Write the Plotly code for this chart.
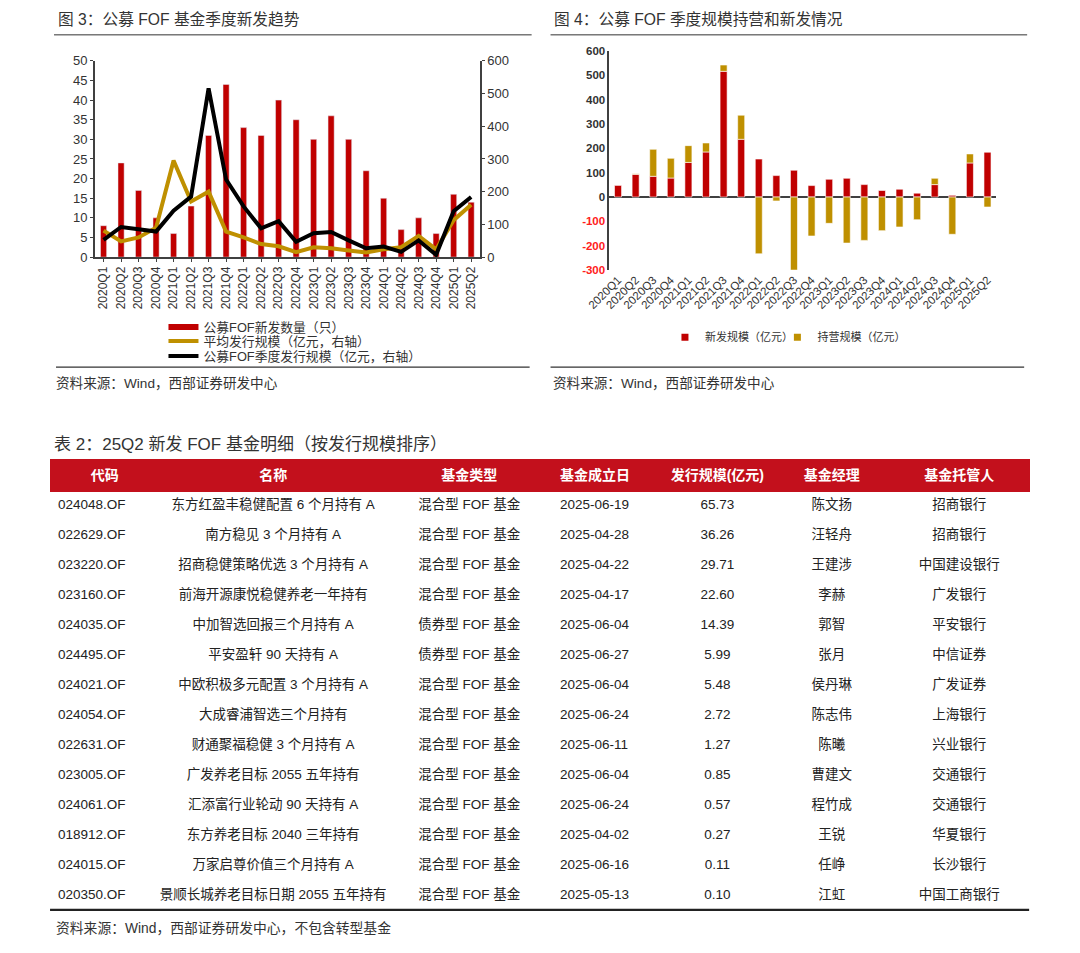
import plotly.graph_objects as go

# ---------------- data ----------------
quarters = ["2020Q1", "2020Q2", "2020Q3", "2020Q4", "2021Q1", "2021Q2", "2021Q3", "2021Q4",
            "2022Q1", "2022Q2", "2022Q3", "2022Q4", "2023Q1", "2023Q2", "2023Q3", "2023Q4",
            "2024Q1", "2024Q2", "2024Q3", "2024Q4", "2025Q1", "2025Q2"]
new_count = [8, 24, 17, 10, 6, 13, 31, 44, 33, 31, 40, 35, 30, 36, 30, 22, 15, 7, 10, 6, 16, 14]
avg_scale = [81, 48, 60, 90, 295, 170, 200, 78, 60, 40, 33, 15, 30, 27, 20, 14, 24, 30, 65, 24, 113, 160]
quarter_scale = [53, 92, 85, 78, 142, 185, 516, 237, 155, 88, 110, 47, 73, 77, 51, 27, 32, 16, 51, 7, 140, 184]

new_scale = [49, 93, 85, 78, 142, 185, 516, 237, 156, 88, 110, 47, 73, 77, 51, 27, 32, 16, 51, 7, 140, 184]
existing_scale = [0, 3, 111, 81, 69, 37, 26, 99, -233, -16, -300, -160, -108, -189, -178, -138, -123, -93, 26, -153, 37, -41]

y3_ticks = [-300, -200, -100, 0, 100, 200, 300, 400, 500, 600]

tbl_headers = ["代码", "名称", "基金类型", "基金成立日", "发行规模(亿元)", "基金经理", "基金托管人"]
codes = ["024048.OF", "022629.OF", "023220.OF", "023160.OF", "024035.OF", "024495.OF", "024021.OF",
         "024054.OF", "022631.OF", "023005.OF", "024061.OF", "018912.OF", "024015.OF", "020350.OF"]
names = ["东方红盈丰稳健配置 6 个月持有 A", "南方稳见 3 个月持有 A", "招商稳健策略优选 3 个月持有 A",
         "前海开源康悦稳健养老一年持有", "中加智选回报三个月持有 A", "平安盈轩 90 天持有 A",
         "中欧积极多元配置 3 个月持有 A", "大成睿浦智选三个月持有", "财通聚福稳健 3 个月持有 A",
         "广发养老目标 2055 五年持有", "汇添富行业轮动 90 天持有 A", "东方养老目标 2040 三年持有",
         "万家启尊价值三个月持有 A", "景顺长城养老目标日期 2055 五年持有"]
fund_types = ["混合型 FOF 基金", "混合型 FOF 基金", "混合型 FOF 基金", "混合型 FOF 基金", "债券型 FOF 基金",
              "债券型 FOF 基金", "混合型 FOF 基金", "混合型 FOF 基金", "混合型 FOF 基金", "混合型 FOF 基金",
              "混合型 FOF 基金", "混合型 FOF 基金", "混合型 FOF 基金", "混合型 FOF 基金"]
est_dates = ["2025-06-19", "2025-04-28", "2025-04-22", "2025-04-17", "2025-06-04", "2025-06-27", "2025-06-04",
             "2025-06-24", "2025-06-11", "2025-06-04", "2025-06-24", "2025-04-02", "2025-06-16", "2025-05-13"]
issue_scale = [65.73, 36.26, 29.71, 22.60, 14.39, 5.99, 5.48, 2.72, 1.27, 0.85, 0.57, 0.27, 0.11, 0.10]
managers = ["陈文扬", "汪轻舟", "王建涉", "李赫", "郭智", "张月", "侯丹琳", "陈志伟", "陈曦", "曹建文",
            "程竹成", "王锐", "任峥", "江虹"]
custodians = ["招商银行", "招商银行", "中国建设银行", "广发银行", "平安银行", "中信证券", "广发证券",
              "上海银行", "兴业银行", "交通银行", "交通银行", "华夏银行", "长沙银行", "中国工商银行"]

# ---------------- style ----------------
OFF = 8                      # default body margin of the page
W, H = 1050, 940
SC, OXC, OYC = 0.983, 19.0, 7.3   # calibration of the photographed page
def px(x):
    return ((x - OXC) / SC - OFF) / W
def py(y):
    return 1 - ((y - OYC) / SC - OFF) / H
ROW = 30

RED = "#C00000"
GOLD = "#BF9000"
HDR = "#C3101C"
AX = "#404040"
TXT = "#333333"
FONT = "Liberation Sans, Noto Sans CJK SC, sans-serif"

fig = go.Figure()

# ---------- chart 1 ----------
fig.add_trace(go.Bar(x=quarters, y=new_count, marker_color=RED, width=0.35,
                     xaxis="x", yaxis="y", showlegend=False, name="公募FOF新发数量（只）"))
fig.add_trace(go.Scatter(x=[None], y=[None], mode="lines", line=dict(color=RED, width=6),
                         xaxis="x", yaxis="y", name="公募FOF新发数量（只）", legend="legend"))
fig.add_trace(go.Scatter(x=quarters, y=avg_scale, mode="lines", line=dict(color=GOLD, width=4),
                         xaxis="x", yaxis="y2", name="平均发行规模（亿元，右轴）", legend="legend2"))
fig.add_trace(go.Scatter(x=quarters, y=quarter_scale, mode="lines", line=dict(color="black", width=4),
                         xaxis="x", yaxis="y2", name="公募FOF季度发行规模（亿元，右轴）", legend="legend3"))

# ---------- chart 2 ----------
fig.add_trace(go.Bar(x=quarters, y=new_scale, marker=dict(color=RED, line=dict(color="white", width=0.6)),
                     width=0.4, xaxis="x2", yaxis="y3", showlegend=False, name="新发规模（亿元）"))
fig.add_trace(go.Bar(x=quarters, y=existing_scale, marker=dict(color=GOLD, line=dict(color="white", width=0.6)),
                     width=0.4, xaxis="x2", yaxis="y3", showlegend=False, name="持营规模（亿元）"))
fig.add_trace(go.Scatter(x=[None], y=[None], mode="markers", marker=dict(color=RED, symbol="square", size=7),
                         xaxis="x2", yaxis="y3", name="新发规模（亿元）", legend="legend4"))
fig.add_trace(go.Scatter(x=[None], y=[None], mode="markers", marker=dict(color=GOLD, symbol="square", size=7),
                         xaxis="x2", yaxis="y3", name="持营规模（亿元）", legend="legend5"))

# ---------- table ----------
nb = lambda s: s.replace(" ", "\u00a0")
fig.add_trace(go.Table(
    domain=dict(x=[px(46), px(1030)], y=[py(918), py(459)]),
    columnwidth=[110, 228, 166, 109, 114, 116, 140],
    header=dict(values=["<b>%s</b>" % h for h in tbl_headers],
                fill_color=HDR, line_color=HDR, height=ROW,
                align=["center", "center", "center", "left", "center", "center", "center"],
                font=dict(family=FONT, size=14, color="white")),
    cells=dict(values=[codes, [nb(n) for n in names], [nb(t) for t in fund_types], est_dates,
                       ["%.2f" % v for v in issue_scale], managers, custodians],
               fill_color="white", line_color="white", height=ROW,
               align=["left", "center", "center", "left", "center", "center", "center"],
               font=dict(family=FONT, size=13.5, color="#222222")),
))

# ---------- layout ----------
tick_txt = []
for v in y3_ticks:
    if v < 0:
        tick_txt.append('<b><span style="color:#FF2020">%d</span></b>' % v)
    else:
        tick_txt.append("<b>%d</b>" % v)

def leg(x, y, orient="v", size=12.8):
    return dict(x=px(x), y=py(y), xanchor="left", yanchor="middle", orientation=orient,
                bgcolor="rgba(0,0,0,0)", borderwidth=0, font=dict(family=FONT, size=size, color=TXT))

fig.update_layout(
    width=W, height=H, margin=dict(l=0, r=0, t=0, b=0),
    paper_bgcolor="white", plot_bgcolor="white",
    font=dict(family=FONT, size=12, color=TXT),
    barmode="relative", bargap=0.6,
    xaxis=dict(domain=[px(91), px(478)], anchor="y", type="category", range=[-0.5, 21.5],
               tickangle=-90, tickfont=dict(size=12, color=TXT), showline=True, linecolor=AX,
               linewidth=1.5, ticks="outside", ticklen=3, tickcolor=AX, showgrid=False, zeroline=False),
    yaxis=dict(domain=[py(257), py(61)], range=[0, 50], dtick=5, showgrid=False, zeroline=False,
               showline=True, linecolor=AX, linewidth=1.5, ticks="outside", ticklen=3, tickcolor=AX,
               tickfont=dict(size=13, color=TXT)),
    yaxis2=dict(overlaying="y", side="right", anchor="x", range=[0, 600], dtick=100, showgrid=False,
                zeroline=False, showline=True, linecolor=AX, linewidth=1.5, ticks="outside", ticklen=3,
                tickcolor=AX, tickfont=dict(size=13, color=TXT)),
    xaxis2=dict(domain=[px(608), px(997)], anchor="y3", type="category", range=[-0.5, 21.5],
                tickangle=-45, tickfont=dict(size=11.5, color=TXT), showline=False, ticks="",
                showgrid=False, zeroline=False),
    yaxis3=dict(domain=[py(270), py(51)], anchor="x2", range=[-300, 600], tickvals=y3_ticks,
                ticktext=tick_txt, showgrid=False, showline=True, linecolor=AX, linewidth=1.5,
                zeroline=True, zerolinecolor=AX, zerolinewidth=1.5, ticks="",
                tickfont=dict(size=11.5, color=TXT)),
    legend=leg(160, 327),
    legend2=leg(160, 341),
    legend3=leg(160, 356),
    legend4=leg(664, 337, "h", 11),
    legend5=leg(777, 337, "h", 11),
    showlegend=True,
)

def label(x, y, text, size=12, color=TXT):
    fig.add_annotation(x=px(x), y=py(y), xref="paper", yref="paper", text=text, showarrow=False,
                       xanchor="left", yanchor="middle", font=dict(family=FONT, size=size, color=color))

label(52, 20, "图 3：公募 FOF 基金季度新发趋势", 15.7)
label(550, 20, "图 4：公募 FOF 季度规模持营和新发情况", 15.7)
label(50, 383, "资料来源：Wind，西部证券研发中心", 13.6)
label(549, 383, "资料来源：Wind，西部证券研发中心", 13.6)
label(48, 444, "表 2：25Q2 新发 FOF 基金明细（按发行规模排序）", 17)
label(50, 927, "资料来源：Wind，西部证券研发中心，不包含转型基金", 13.8)

def hline(x0, x1, y, w=1.0, color="#333333"):
    fig.add_shape(type="line", xref="paper", yref="paper", x0=px(x0), x1=px(x1), y0=py(y), y1=py(y),
                  line=dict(color=color, width=w))

hline(50, 530, 35)
hline(549, 1028, 35)
hline(52, 528, 367, 1.2)
hline(549, 1025, 367, 1.2)
hline(46, 1030, 909, 2.2, "#222222")

fig.write_html("out.html", config={"displayModeBar": False})
